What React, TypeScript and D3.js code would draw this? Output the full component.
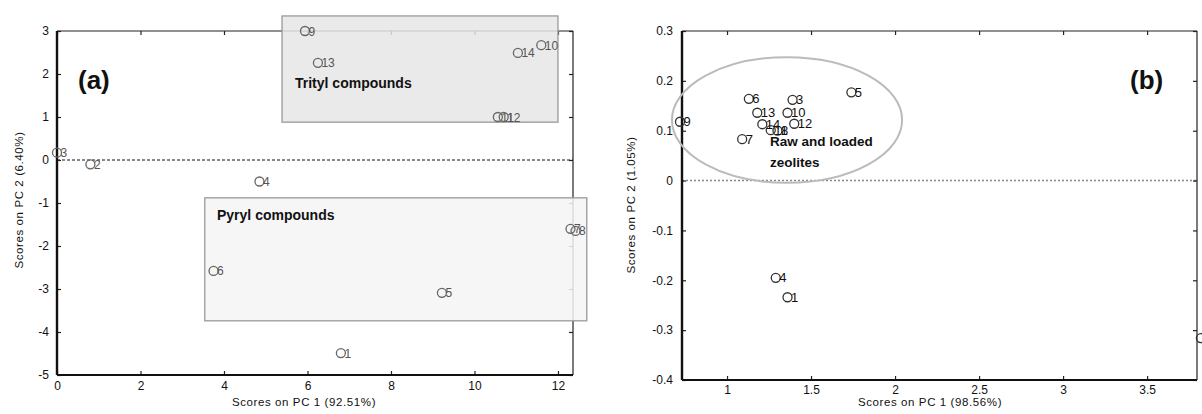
import React, { useEffect, useRef } from 'react';
import * as d3 from 'd3';

// panel (a): PC1 vs PC2 scores, all 14 samples
const aLabels = ['1', '2', '3', '4', '5', '6', '7', '8', '9', '10', '11', '12', '13', '14'];
const aPC1 = [6.8, 0.8, 0.0, 4.85, 9.22, 3.75, 12.3, 12.42, 5.94, 11.6, 10.56, 10.7, 6.25, 11.04];
const aPC2 = [-4.49, -0.1, 0.17, -0.5, -3.09, -2.58, -1.6, -1.65, 3.0, 2.67, 1.0, 1.0, 2.26, 2.49];
const aXTicks = [0, 2, 4, 6, 8, 10, 12];
const aYTicks = [-5, -4, -3, -2, -1, 0, 1, 2, 3];

// panel (b): zeolites
const bLabels = ['1', '2', '3', '4', '5', '6', '7', '8', '9', '10', '11', '12', '13', '14'];
const bPC1 = [1.36, 3.82, 1.39, 1.29, 1.74, 1.13, 1.09, 1.3, 0.72, 1.36, 1.26, 1.4, 1.18, 1.21];
const bPC2 = [-0.234, -0.316, 0.162, -0.195, 0.177, 0.164, 0.083, 0.1, 0.118, 0.136, 0.101, 0.114, 0.136, 0.113];
const bXTicks = [1, 1.5, 2, 2.5, 3, 3.5];
const bYTicks = [-0.4, -0.3, -0.2, -0.1, 0, 0.1, 0.2, 0.3];

const FONT = 'Liberation Sans, Arial, sans-serif';

const App = () => {
  const ref = useRef(null);

  useEffect(() => {
    const svg = d3.select(ref.current);
    svg.selectAll('*').remove();

    const drawFrame = (g, x, y, xTicks, yTicks, xPad, yPad) => {
      const [x0, x1] = x.range();
      const [y0, y1] = y.range();
      const fmt = d => String(d);

      const bottom = g.append('g').attr('transform', `translate(0,${y0})`)
        .call(d3.axisBottom(x).tickValues(xTicks).tickSize(-4).tickPadding(xPad).tickFormat(fmt));
      const top = g.append('g').attr('transform', `translate(0,${y1})`)
        .call(d3.axisTop(x).tickValues(xTicks).tickSize(-4).tickFormat(() => ''));
      const left = g.append('g').attr('transform', `translate(${x0},0)`)
        .call(d3.axisLeft(y).tickValues(yTicks).tickSize(-4).tickPadding(yPad).tickFormat(fmt));
      const right = g.append('g').attr('transform', `translate(${x1},0)`)
        .call(d3.axisRight(y).tickValues(yTicks).tickSize(-4).tickFormat(() => ''));

      [bottom, top, left, right].forEach(a => {
        a.select('.domain').remove();
        a.selectAll('line').attr('stroke', '#222').attr('stroke-width', 1.2);
        a.selectAll('text').attr('font-family', FONT).attr('font-size', 12).attr('fill', '#111');
      });

      g.append('line').attr('x1', x0).attr('x2', x1).attr('y1', y1).attr('y2', y1)
        .attr('stroke', '#222').attr('stroke-width', 1.2);
      g.append('line').attr('x1', x1).attr('x2', x1).attr('y1', y1).attr('y2', y0)
        .attr('stroke', '#222').attr('stroke-width', 1.2);
      g.append('line').attr('x1', x0).attr('x2', x1).attr('y1', y0).attr('y2', y0)
        .attr('stroke', '#111').attr('stroke-width', 2.2);
      g.append('line').attr('x1', x0).attr('x2', x0).attr('y1', y1).attr('y2', y0)
        .attr('stroke', '#111').attr('stroke-width', 2.4);
    };

    const drawPoints = (g, x, y, xs, ys, labels, stroke, textColor, size) => {
      const pts = g.append('g').selectAll('g').data(labels).enter().append('g')
        .attr('transform', (d, i) => `translate(${x(xs[i])},${y(ys[i])})`);
      pts.append('circle').attr('r', 4.5).attr('fill', 'none')
        .attr('stroke', stroke).attr('stroke-width', 1.3);
      pts.append('text').text(d => d).attr('x', 3.5).attr('y', 4.5)
        .attr('font-family', FONT).attr('font-size', size).attr('fill', textColor);
    };

    // ---- panel (a)
    const ax = d3.scaleLinear().domain([0, 12.36]).range([57, 573]);
    const ay = d3.scaleLinear().domain([-5, 3]).range([375, 31]);
    const ga = svg.append('g');

    ga.append('line').attr('x1', ax(0)).attr('x2', ax(12.36)).attr('y1', ay(0)).attr('y2', ay(0))
      .attr('stroke', '#111').attr('stroke-width', 1).attr('stroke-dasharray', '3,2');

    drawFrame(ga, ax, ay, aXTicks, aYTicks, 6, 8);

    ga.append('rect').attr('x', ax(5.39)).attr('y', ay(3.35))
      .attr('width', ax(12.0) - ax(5.39)).attr('height', ay(0.88) - ay(3.35))
      .attr('fill', '#e6e6e6').attr('fill-opacity', 0.85).attr('stroke', '#999').attr('stroke-width', 1.3);
    ga.append('rect').attr('x', ax(3.54)).attr('y', ay(-0.88))
      .attr('width', ax(12.69) - ax(3.54)).attr('height', ay(-3.74) - ay(-0.88))
      .attr('fill', '#f4f4f4').attr('fill-opacity', 0.85).attr('stroke', '#999').attr('stroke-width', 1.3);

    ga.append('text').text('Trityl compounds').attr('x', 295).attr('y', 88)
      .attr('font-family', FONT).attr('font-size', 14).attr('font-weight', 'bold').attr('fill', '#111');
    ga.append('text').text('Pyryl compounds').attr('x', 217).attr('y', 220)
      .attr('font-family', FONT).attr('font-size', 14).attr('font-weight', 'bold').attr('fill', '#111');
    ga.append('text').text('(a)').attr('x', 78).attr('y', 89)
      .attr('font-family', FONT).attr('font-size', 26).attr('font-weight', 'bold').attr('fill', '#111');

    drawPoints(ga, ax, ay, aPC1, aPC2, aLabels, '#666', '#555', 12);

    ga.append('text').text('Scores on PC 1 (92.51%)').attr('x', 304).attr('y', 406)
      .attr('text-anchor', 'middle').attr('font-family', FONT).attr('font-size', 11.5)
      .attr('letter-spacing', 0.6).attr('fill', '#111');
    ga.append('text').text('Scores on PC 2 (6.40%)')
      .attr('transform', 'translate(23,200) rotate(-90)')
      .attr('text-anchor', 'middle').attr('font-family', FONT).attr('font-size', 11.5)
      .attr('letter-spacing', 0.6).attr('fill', '#111');

    // ---- panel (b)
    const bx = d3.scaleLinear().domain([0.732, 3.797]).range([682, 1197]);
    const by = d3.scaleLinear().domain([-0.4, 0.3]).range([380, 31]);
    const gb = svg.append('g');

    gb.append('line').attr('x1', bx(0.732)).attr('x2', bx(3.797)).attr('y1', by(0)).attr('y2', by(0))
      .attr('stroke', '#888').attr('stroke-width', 1.6).attr('stroke-dasharray', '2,2');

    drawFrame(gb, bx, by, bXTicks, bYTicks, 5, 9);

    gb.append('ellipse').attr('cx', bx(1.357)).attr('cy', by(0.1215))
      .attr('rx', bx(1.357 + 0.685) - bx(1.357)).attr('ry', by(0) - by(0.126))
      .attr('fill', 'none').attr('stroke', '#bbb').attr('stroke-width', 2);

    drawPoints(gb, bx, by, bPC1, bPC2, bLabels, '#333', '#111', 13);

    gb.append('text').text('Raw and loaded').attr('x', 770).attr('y', 146)
      .attr('font-family', FONT).attr('font-size', 13.5).attr('font-weight', 'bold').attr('fill', '#111');
    gb.append('text').text('zeolites').attr('x', 770).attr('y', 167)
      .attr('font-family', FONT).attr('font-size', 13.5).attr('font-weight', 'bold').attr('fill', '#111');
    gb.append('text').text('(b)').attr('x', 1130).attr('y', 89)
      .attr('font-family', FONT).attr('font-size', 26).attr('font-weight', 'bold').attr('fill', '#111');

    gb.append('text').text('Scores on PC 1 (98.56%)').attr('x', 930).attr('y', 406)
      .attr('text-anchor', 'middle').attr('font-family', FONT).attr('font-size', 11.5)
      .attr('letter-spacing', 0.6).attr('fill', '#111');
    gb.append('text').text('Scores on PC 2 (1.05%)')
      .attr('transform', 'translate(635,205) rotate(-90)')
      .attr('text-anchor', 'middle').attr('font-family', FONT).attr('font-size', 11.5)
      .attr('letter-spacing', 0.6).attr('fill', '#111');
  }, []);

  return (
    <svg ref={ref} width={1202} height={414}
      style={{ position: 'absolute', left: 0, top: 0, background: '#fff' }} />
  );
};

export default App;
